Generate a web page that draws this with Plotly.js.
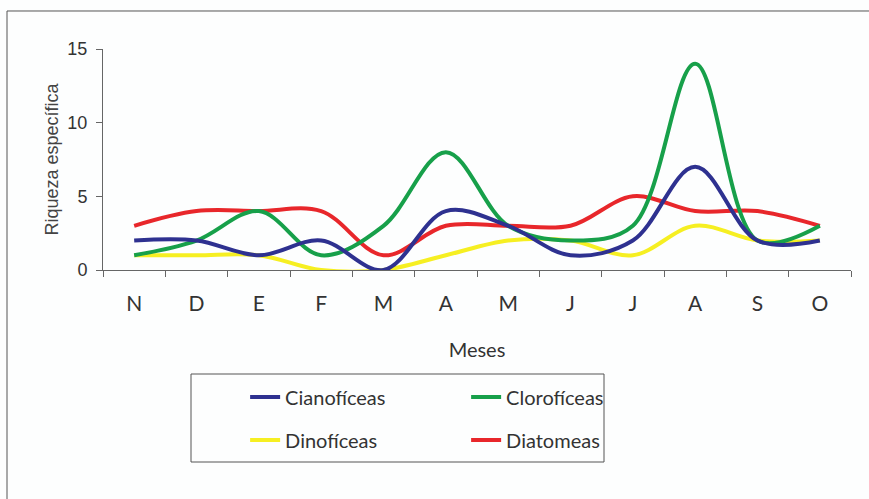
<!DOCTYPE html>
<html>
<head>
<meta charset="utf-8">
<script src="https://cdn.plot.ly/plotly-3.0.1.min.js"></script>
<style>html,body{margin:0;padding:0;background:#fdfefe;}</style>
</head>
<body>
<div id="chart" style="width:869px;height:499px;"></div>
<script>
const months = ['N','D','E','F','M','A','M','J','J','A','S','O'];
const cianoficeas = [2,2,1,2,0,4,3,1,2,7,2,2];
const cloroficeas = [1,2,4,1,3,8,3,2,3,14,2,3];
const dinoficeas  = [1,1,1,0,0,1,2,2,1,3,2,2];
const diatomeas   = [3,4,4,4,1,3,3,3,5,4,4,3];
const yTicks = [0,5,10,15];

const xIdx = months.map((_, i) => i + 1);
const narrow = 'Lato, Liberation Sans Narrow, sans-serif';

function mk(name, y, color, legend) {
  return {
    x: xIdx, y: y, name: name, type: 'scatter', mode: 'lines',
    line: {color: color, width: 4, shape: 'spline', smoothing: 1},
    cliponaxis: false, legend: legend, hoverinfo: 'skip'
  };
}

const data = [
  mk('Diatomeas', diatomeas, '#e8272b', 'legend2'),
  mk('Dinofíceas', dinoficeas, '#f6ef22', 'legend2'),
  mk('Clorofíceas', cloroficeas, '#17a04a', 'legend'),
  mk('Cianofíceas', cianoficeas, '#2e3190', 'legend')
];

const legendCommon = {
  orientation: 'h', xanchor: 'left', yanchor: 'middle',
  x: 0.19, entrywidth: 176, traceorder: 'reversed',
  bgcolor: 'rgba(0,0,0,0)', borderwidth: 0,
  font: {family: narrow, size: 20, color: '#333'}
};

const layout = {
  width: 869, height: 499,
  margin: {l: 103, r: 18, t: 49, b: 229},
  paper_bgcolor: '#fdfefe', plot_bgcolor: '#fdfefe',
  showlegend: true,
  xaxis: {
    range: [0.5, 12.5], tickmode: 'array', tickvals: xIdx, ticktext: months,
    ticks: '', showgrid: false, zeroline: false,
    showline: true, linecolor: '#666', linewidth: 1,
    minor: {tickmode: 'linear', tick0: 0.5, dtick: 1, ticks: 'outside', ticklen: 6, tickcolor: '#666', showgrid: false},
    ticklabelstandoff: 15,
    tickfont: {family: narrow, size: 21, color: '#333'},
    title: {text: 'Meses', font: {family: narrow, size: 20, color: '#333'}, standoff: 28}
  },
  yaxis: {
    range: [0, 15], tickmode: 'array', tickvals: yTicks,
    ticks: 'outside', ticklen: 6, tickcolor: '#666',
    showgrid: false, zeroline: false,
    showline: true, linecolor: '#666', linewidth: 1,
    ticklabelstandoff: 5,
    tickfont: {family: 'Liberation Sans, Arial, sans-serif', size: 18, color: '#333'},
    title: {text: 'Riqueza específica', font: {family: 'Liberation Sans, Arial, sans-serif', size: 18, color: '#444'}, standoff: 4}
  },
  legend: Object.assign({}, legendCommon, {y: -0.5747}),
  legend2: Object.assign({}, legendCommon, {y: -0.7692}),
  shapes: [
    {type: 'rect', xref: 'paper', yref: 'paper', x0: 0.11765, x1: 0.66979, y0: -0.86878, y1: -0.47059,
     line: {color: '#555', width: 1}, fillcolor: 'rgba(0,0,0,0)'},
    {type: 'path', xref: 'paper', yref: 'paper',
     path: 'M -0.12834,-1.2 L -0.12834,1.17195 L 1.05,1.17195',
     line: {color: '#555', width: 1}}
  ]
};

Plotly.newPlot('chart', data, layout, {displayModeBar: false, staticPlot: true});
</script>
</body>
</html>
